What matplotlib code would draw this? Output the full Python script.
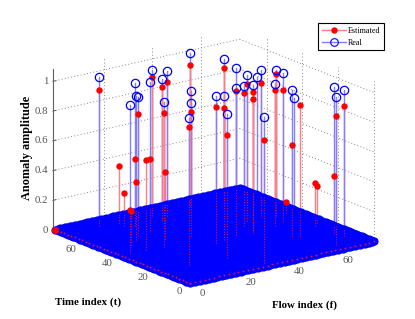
import numpy as np
import matplotlib
matplotlib.use('Agg')
import matplotlib.pyplot as plt
from matplotlib.lines import Line2D
from matplotlib.path import Path
from matplotlib.transforms import IdentityTransform
from mpl_toolkits.mplot3d import proj3d

# anomaly positions and amplitudes
flow_idx = [14.1, 3.9, 23.5, 14.1, 17.9, 24.3, 34.7, 10.2, 34.0, 38.6, 16.7, 51.0, 31.7, 21.9, 11.4,
            60.0, 33.2, 37.0, 26.0, 63.1, 43.5, 52.1, 56.3, 51.3, 57.5, 63.2, 32.6, 67.1, 60.3, 65.8,
            58.2, 54.2, 60.3, 71.3, 63.2, 71.9,
            21.3, 20.6, 9.5, 23.0, 71.9, 70.8, 73.3, 50.1]
time_idx = [69.7, 38.7, 62.5, 48.9, 52.9, 54.9, 67.8, 38.0, 61.4, 64.8, 37.2, 69.1, 42.3, 29.0, 16.2,
            62.2, 30.1, 31.3, 14.7, 59.8, 33.3, 40.5, 44.2, 34.2, 40.5, 45.9, 2.7, 42.9, 34.2, 37.0,
            22.0, 15.3, 20.4, 16.0, 4.2, 11.4,
            68.4, 64.7, 45.4, 44.8, 43.4, 26.1, 28.4, 32.3]
real_vals = [1.00, 1.00, 0.96, 0.97, 0.93, 1.00, 0.98, 0.00, 0.95, 0.97, 0.98, 1.03, 0.97, 0.99, 0.99,
             0.99, 0.99, 0.97, 0.97, 0.93, 0.99, 0.94, 0.98, 0.98, 0.98, 0.98, 0.98, 0.98, 0.95, 0.99,
             0.98, 0.97, 0.00, 0.98, 1.00, 0.98,
             0.00, 0.00, 0.00, 0.00, 0.00, 0.00, 0.00, 0.00]
est_vals = [0.91, 0.29, 0.45, 0.39, 0.82, 0.48, 0.93, 0.61, 0.90, 0.90, 0.90, 0.95, 0.83, 0.00, 0.93,
            0.93, 0.92, 0.89, 0.83, 0.00, 0.97, 0.89, 0.92, 0.93, 0.00, 0.89, 0.83, 0.95, 0.91, 0.88,
            0.61, 0.00, 0.88, 0.38, 0.87, 0.87,
            0.38, 0.22, 0.23, 0.45, 0.07, 0.29, 0.25, 0.90]
red_on_top = [6, 8, 10, 11, 15, 17, 23, 27, 28]
corner_flow, corner_time, corner_est = [0], [75], [0]

f_ticks = [0, 20, 40, 60]
t_ticks = [0, 20, 40, 60]
z_ticks = [0, 0.2, 0.4, 0.6, 0.8, 1]
z_labels = ['0', '0.2', '0.4', '0.6', '0.8', '1']
t_grid = np.arange(0, 76)
f_grid = np.arange(0, 77)

F_MAX, T_MAX, Z_MAX = 76, 75, 1.08
SERIF = 'Liberation Serif'
W, H = 415, 319

fig = plt.figure(figsize=(W / 100, H / 100), dpi=100)
ax = fig.add_axes([0.1, 0.1, 0.8, 0.8 * W / H], projection='3d', proj_type='ortho')
ax.computed_zorder = False
ax.view_init(elev=17.4, azim=-127)
ax.set_xlim(0, F_MAX)
ax.set_ylim(0, T_MAX)
ax.set_zlim(0, Z_MAX)
ax.set_box_aspect((233, 226, 170))
ax.set_axis_off()
ax.patch.set_alpha(0)


def to_px(x, y, z):
    X, Y, _ = proj3d.proj_transform(x, y, z, ax.get_proj())
    return ax.transData.transform((X, Y))


# place the box: left corner x=56, right corner x=375, bottom corner (190, 283)
fig.canvas.draw()
p = ax.get_position()
width = to_px(F_MAX, 0, 0)[0] - to_px(0, T_MAX, 0)[0]
k = 319 / width
ax.set_position([p.x0, p.y0, p.width * k, p.height * k])
fig.canvas.draw()
b = to_px(0, 0, 0)
p = ax.get_position()
ax.set_position([p.x0 + (190 - b[0]) / W, p.y0 + ((H - 283) - b[1]) / H, p.width, p.height])
fig.canvas.draw()


def label_at(px, text, dx=0, dy=0, **kw):
    fig.text((px[0] + dx) / W, (px[1] + dy) / H, text, family=SERIF, fontsize=7.8, color='#555555',
             va='center', **kw)


GRID = dict(color='#777777', lw=0.65, ls=(0, (1, 2.6)), zorder=0.5)
for z in z_ticks[1:]:
    ax.plot([0, F_MAX], [T_MAX, T_MAX], [z, z], **GRID)
    ax.plot([F_MAX, F_MAX], [T_MAX, 0], [z, z], **GRID)
for f in f_ticks[1:]:
    ax.plot([f, f], [T_MAX, T_MAX], [0, Z_MAX], **GRID)
for t in t_ticks:
    ax.plot([F_MAX, F_MAX], [t, t], [0, Z_MAX], **GRID)

ax.plot([-1, -1], [T_MAX, T_MAX], [0, Z_MAX], color='#606060', lw=0.8, zorder=0.6)
for z, lab in zip(z_ticks, z_labels):
    ax.plot([-1, 0.3], [T_MAX, T_MAX], [z, z], color='#606060', lw=0.7, zorder=0.6)
    label_at(to_px(-1, T_MAX, z), lab, dx=-4.5, ha='right')
for t in t_ticks:
    label_at(to_px(0, t, 0), str(t), dx=-11, dy=-9, ha='center')
for f in f_ticks:
    label_at(to_px(f, 0, 0), str(f), dx=12.5, dy=-10, ha='center')

RED_STEM, BLUE_STEM = '#ff7f7f', '#7f7fff'
for f, t, e in zip(flow_idx, time_idx, est_vals):
    if e > 0:
        ax.plot([f, f], [t, t], [0, e], color=RED_STEM, lw=1.0, zorder=1)
for f, t, r in zip(flow_idx, time_idx, real_vals):
    if r > 0:
        ax.plot([f, f], [t, t], [0, r], color=BLUE_STEM, lw=1.0, zorder=1.1)
for i in red_on_top:
    ax.plot([flow_idx[i]] * 2, [time_idx[i]] * 2, [0, est_vals[i]], color=RED_STEM, lw=1.0, zorder=1.2)

ff, tt = np.meshgrid(f_grid, t_grid)
zz = np.zeros(ff.size)
ax.plot(ff.ravel(), tt.ravel(), zz, ls='', marker='o', ms=5.0, mfc='#0000ff', mec='#0000ff', mew=0.9, zorder=2.1)

# red dots of the zero estimates that peek out along the front rows
ax.plot(f_grid[::2], np.zeros(f_grid[::2].size), np.zeros(f_grid[::2].size), ls='', marker='o', ms=1.4,
        mfc='#d8104a', mec='none', zorder=2.3)
ax.plot(np.zeros(t_grid[::2].size), t_grid[::2], np.zeros(t_grid[::2].size), ls='', marker='o', ms=1.4,
        mfc='#d8104a', mec='none', zorder=2.3)

# red stem bases that show through the floor
corners = [to_px(0, 0, 0), to_px(F_MAX, 0, 0), to_px(F_MAX, T_MAX, 0), to_px(0, T_MAX, 0), to_px(0, 0, 0)]
floor = Path(np.array(corners), closed=True)
for f, t, e in zip(flow_idx, time_idx, est_vals):
    if e > 0:
        ln, = ax.plot([f, f], [t, t], [0, e], color='#e01040', lw=0.75, ls=(0, (1, 1.5)), zorder=2.5)
        ln.set_clip_path(floor, IdentityTransform())

ex = [f for f, e in zip(flow_idx, est_vals) if e > 0]
ey = [t for t, e in zip(time_idx, est_vals) if e > 0]
ez = [e for e in est_vals if e > 0]
ax.plot(ex, ey, ez, ls='', marker='o', ms=4.6, mfc='red', mec='red', mew=0, zorder=3)
ax.plot(corner_flow, corner_time, corner_est, ls='', marker='o', ms=5.2, mfc='red', mec='red', mew=0, zorder=3)
rx = [f for f, r in zip(flow_idx, real_vals) if r > 0]
ry = [t for t, r in zip(time_idx, real_vals) if r > 0]
rz = [r for r in real_vals if r > 0]
ax.plot(rx, ry, rz, ls='', marker='o', ms=6, mfc='none', mec='#0000ff', mew=0.9, zorder=3.1)

fig.text(27 / W, 1 - 148 / H, 'Anomaly amplitude', rotation=90, ha='center', va='center',
         family=SERIF, weight='bold', fontsize=8.8)
fig.text(88.5 / W, 1 - 302 / H, 'Time index (t)', ha='center', va='center', family=SERIF, weight='bold', fontsize=7.8)
fig.text(304.5 / W, 1 - 305 / H, 'Flow index (f)', ha='center', va='center', family=SERIF, weight='bold', fontsize=7.8)

handles = [Line2D([], [], color=RED_STEM, lw=1, marker='o', ms=4.6, mfc='red', mec='red', mew=0),
           Line2D([], [], color=BLUE_STEM, lw=1, marker='o', ms=5.5, mfc='none', mec='#0000ff', mew=0.8)]
leg = fig.legend(handles, ['Estimated', 'Real'], loc='upper right', bbox_to_anchor=(384 / W, 1 - 23 / H),
                 prop={'family': SERIF, 'size': 5.9}, frameon=True, fancybox=False, framealpha=1,
                 edgecolor='black', handlelength=3.0, borderpad=0.45, labelspacing=0.5, handletextpad=0.2,
                 borderaxespad=0)
leg.get_frame().set_linewidth(0.8)

fig.savefig('out.png', dpi=100)
